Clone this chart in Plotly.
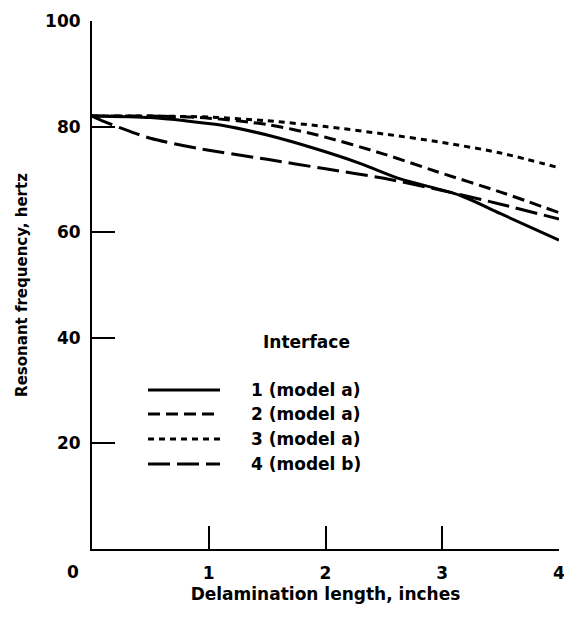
import plotly.graph_objects as go

# Delamination length (inches)
x1 = [0, 0.5, 0.8, 1.1, 1.5, 1.93, 2.3, 2.64, 3.15, 3.5, 4.0]
y1 = [82, 81.7, 81.1, 80.3, 78.4, 75.7, 73.0, 70.1, 67.0, 63.5, 58.5]

x2 = [0, 0.5, 1.0, 1.5, 1.93, 2.5, 2.95, 3.5, 4.0]
y2 = [82, 82, 81.6, 80.4, 78.4, 74.8, 71.5, 67.6, 63.7]

x3 = [0, 0.5, 1.0, 1.5, 2.0, 2.5, 3.0, 3.5, 4.0]
y3 = [82, 82, 81.8, 81.1, 80.0, 78.6, 77.0, 75.0, 72.2]

x4 = [0, 0.1, 0.25, 0.5, 0.9, 1.5, 2.0, 2.5, 3.0, 3.5, 4.0]
y4 = [82, 81.0, 79.7, 77.8, 75.9, 73.8, 72.0, 70.2, 67.9, 65.3, 62.5]

series_names = ["1 (model a)", "2 (model a)", "3 (model a)", "4 (model b)"]
x_ticks = [1, 2, 3, 4]
y_ticks = [20, 40, 60, 80, 100]

dashes = ["solid", "12px,6px", "6px,5px", "22px,7px"]
xs = [x1, x2, x3, x4]
ys = [y1, y2, y3, y4]

FONT = "DejaVu Sans"
fig = go.Figure()
for xv, yv, nm, d in zip(xs, ys, series_names, dashes):
    fig.add_trace(go.Scatter(x=xv, y=yv, mode="lines", name=nm,
                             line=dict(color="black", width=3, dash=d, shape="spline", smoothing=0.8),
                             showlegend=False, cliponaxis=False))

OFF = 8  # page body margin
W, H = 572 - OFF, 596
L, T = 92 - OFF, 21 - OFF
R = W - (559 - OFF)
B = H - (549 - OFF)
pw, ph = W - L - R, H - T - B

def px(xp):
    return (xp - OFF - L) / pw

def py(yp):
    return (H - B - (yp - OFF)) / ph

# legend drawn manually
rows = [390, 414, 439, 464]
for nm, d, r in zip(series_names, dashes, rows):
    fig.add_shape(type="line", xref="paper", yref="paper",
                  x0=px(148), x1=px(220), y0=py(r), y1=py(r),
                  line=dict(color="black", width=3, dash=d))
    fig.add_annotation(xref="paper", yref="paper", x=px(249), y=py(r),
                       text=nm, showarrow=False, xanchor="left", yanchor="middle",
                       font=dict(family=FONT, size=17, color="black", weight="bold"))
fig.add_annotation(xref="paper", yref="paper", x=px(306), y=py(342),
                   text="Interface", showarrow=False, xanchor="center", yanchor="middle",
                   font=dict(family=FONT, size=17, color="black", weight="bold"))
fig.add_annotation(xref="paper", yref="paper", x=px(73), y=py(572),
                   text="0", showarrow=False, xanchor="center", yanchor="middle",
                   font=dict(family=FONT, size=17, color="black", weight="bold"))

fig.update_layout(
    width=W, height=H,
    margin=dict(l=L, r=R, t=T, b=B, pad=0, autoexpand=False),
    paper_bgcolor="white", plot_bgcolor="white",
    font=dict(family=FONT, size=17, color="black", weight="bold"),
    xaxis=dict(range=[0, 4], tickvals=x_ticks, ticks="inside", ticklen=23, tickwidth=2,
               tickcolor="black", showline=True, linecolor="black", linewidth=2,
               showgrid=False, zeroline=False, ticklabelstandoff=8, automargin=False,
               ticklabeloverflow="allow",
               title=dict(text="Delamination length, inches", standoff=8,
                          font=dict(family=FONT, size=17, weight="bold"))),
    yaxis=dict(range=[0, 100], tickvals=y_ticks, ticks="inside", ticklen=23, tickwidth=2,
               tickcolor="black", showline=True, linecolor="black", linewidth=2,
               showgrid=False, zeroline=False, ticklabelstandoff=6, automargin=False,
               ticklabeloverflow="allow",
               title=dict(text="Resonant frequency, hertz", standoff=14,
                          font=dict(family=FONT, size=15, weight="bold"))),
)

fig.write_html("out.html")
